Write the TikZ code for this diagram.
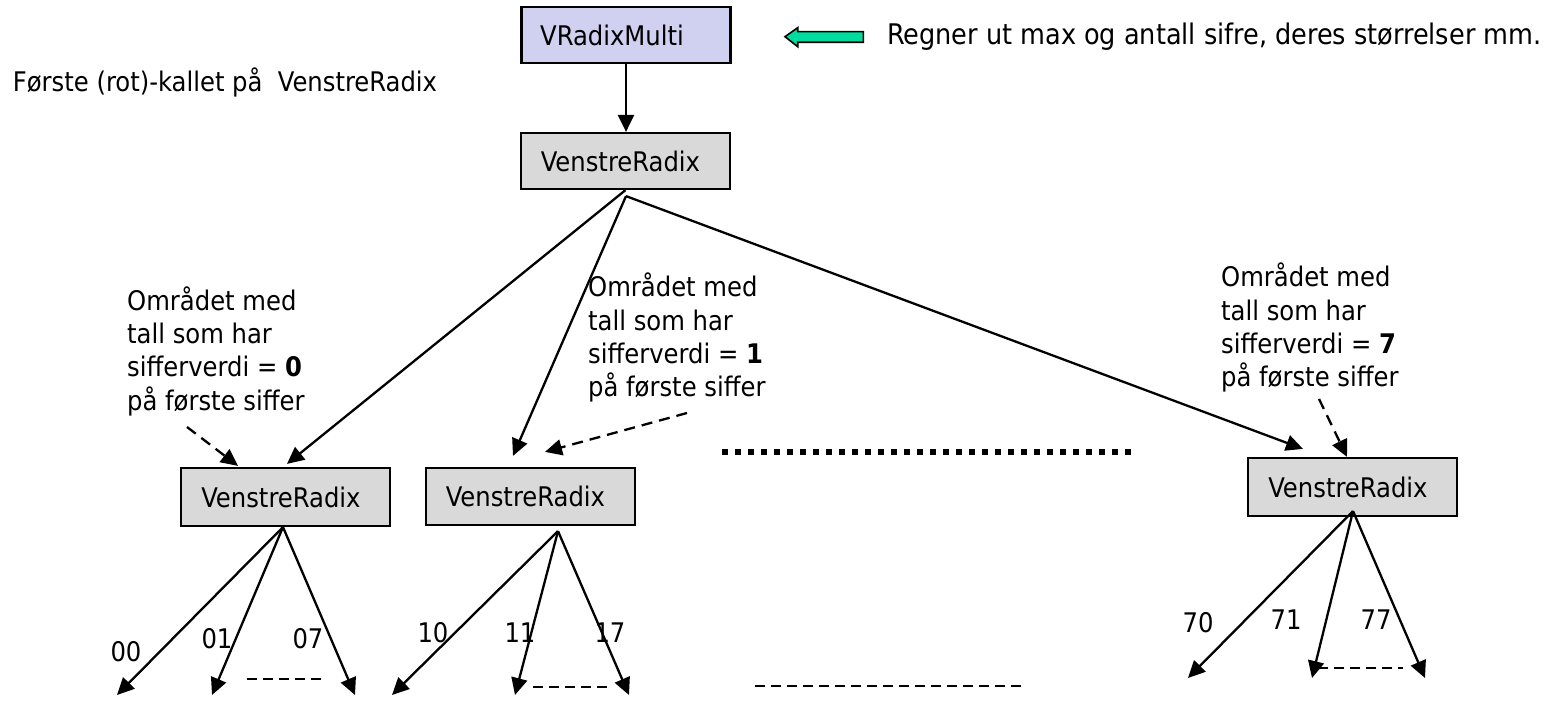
\documentclass[tikz,border=0pt]{standalone}
\usepackage{fontspec}
\setmainfont{DejaVu Sans Condensed}
\usetikzlibrary{arrows.meta,calc}
\definecolor{boxgray}{RGB}{217,217,217}
\definecolor{boxlav}{RGB}{208,208,240}
\definecolor{mint}{RGB}{0,220,160}
\begin{document}
\begin{tikzpicture}[x=1pt,y=-1pt,
  every node/.style={font=\fontsize{27}{33.3}\selectfont},
  callbox/.style={draw=black,line width=2.2pt,minimum width=209pt,minimum height=57pt,inner sep=0pt},
  arr/.style={line width=2.3pt,-{Triangle[length=17pt,width=16pt]}},
  darr/.style={arr,dash pattern=on 11pt off 7pt},
  gap/.style={line width=2.2pt,dash pattern=on 10pt off 6pt},
  dots/.style={line width=6pt,dash pattern=on 6pt off 7pt},
  note/.style={align=left,inner sep=0pt,anchor=base west},
  lbl/.style={inner sep=0pt}]
\useasboundingbox (0,0) rectangle (1556,703);

% call boxes (labels sit slightly left of centre)
\node[callbox,fill=boxlav,minimum height=56pt] (multi) at (626,35) {VRadixMulti\kern28pt};
\node[callbox,fill=boxgray,minimum height=56pt] (root) at (625.5,161) {VenstreRadix\kern10pt};
\node[callbox,fill=boxgray,minimum height=58pt] (vr0) at (285.5,497) {VenstreRadix\kern9pt};
\node[callbox,fill=boxgray] (vr1) at (530.5,496.5) {VenstreRadix\kern10pt};
\node[callbox,fill=boxgray,minimum height=58pt] (vr7) at (1352.5,487) {VenstreRadix\kern9pt};

% texts (multi-line notes are anchored at the baseline of their last line)
\node[note] (hdr) at (12.7,91.7) {Første (rot)-kallet på\ \ VenstreRadix};
\node[note,font=\fontsize{28.4}{34}\selectfont] (info) at (887,44.5) {Regner ut max og antall sifre, deres størrelser mm.};
\node[note] (a0) at (127,410) {Området med\\tall som har\\sifferverdi = \textbf{0}\\på første siffer};
\node[note] (a1) at (588,396.7) {Området med\\tall som har\\sifferverdi = \textbf{1}\\på første siffer};
\node[note] (a7) at (1221,386.7) {Området med\\tall som har\\sifferverdi = \textbf{7}\\på første siffer};

% green pointer towards VRadixMulti
\draw[fill=mint,line width=1.6pt,line join=miter]
  (785,36.7) -- (797.7,27.7) -- (797.7,31.7) -- (863.3,31.7) -- (863.3,42.3)
  -- (797.7,42.3) -- (797.7,46.7) -- cycle;

% top-level calls
\draw[arr] (multi.south) -- (multi.south |- root.north);
\coordinate (fan) at ([shift={(0.5,6)}]root.south);
\draw[arr] (root.south) -- ([shift={(1.5,-3)}]vr0.north);
\draw[arr] (fan) -- ([shift={(-17.5,-11)}]vr1.north);
\draw[arr] (fan) -- ([shift={(-49.5,-8)}]vr7.north);

% notes pointing at their calls
\draw[darr] ([shift={(60,17)}]a0.base west) -- ([shift={(-47.5,-1)}]vr0.north);
\draw[darr] ([shift={(99,16.3)}]a1.base west) -- ([shift={(14.5,-15)}]vr1.north);
\draw[darr] ([shift={(98,12.3)}]a7.base west) -- ([shift={(-5.5,0)}]vr7.north);

% second-level calls
\coordinate (o0) at ([shift={(-2.5,0)}]vr0.south);
\coordinate (o1) at ([shift={(27.5,5)}]vr1.south);
\coordinate (o7) at ([shift={(0.5,-6)}]vr7.south);
\coordinate (c00) at (117,695);
\coordinate (c01) at (212,695);
\coordinate (c07) at (355,695);
\coordinate (c10) at (392,695);
\coordinate (c11) at (515,695);
\coordinate (c17) at (629,695);
\coordinate (c70) at (1188,678);
\coordinate (c71) at (1312,678);
\coordinate (c77) at (1425,678);
\foreach \t in {c00,c01,c07} \draw[arr] (o0) -- (\t);
\foreach \t in {c10,c11,c17} \draw[arr] (o1) -- (\t);
\foreach \t in {c70,c71,c77} \draw[arr] (o7) -- (\t);

\node[lbl] (l00) at (126,652) {00};
\node[lbl] (l01) at (217,639) {01};
\node[lbl] (l07) at (308,639) {07};
\node[lbl] (l10) at (433,633) {10};
\node[lbl] (l11) at (520,633) {11};
\node[lbl] (l17) at (610,633) {17};
\node[lbl] (l70) at (1198,623) {70};
\node[lbl] (l71) at (1286,620) {71};
\node[lbl] (l77) at (1376,620) {77};

% omitted siblings
\draw[gap] ($(c01)+(35,-16)$) -- ($(c07)+(-33,-16)$);
\draw[gap] ($(c11)+(18,-8)$) -- ($(c17)+(-19,-8)$);
\draw[gap] ($(c71)+(6,-10)$) -- ($(c77)+(-22,-10)$);
\draw[dots] (722,452) -- (1138,452);
\draw[gap] (755,686) -- (1027,686);
\end{tikzpicture}
\end{document}
